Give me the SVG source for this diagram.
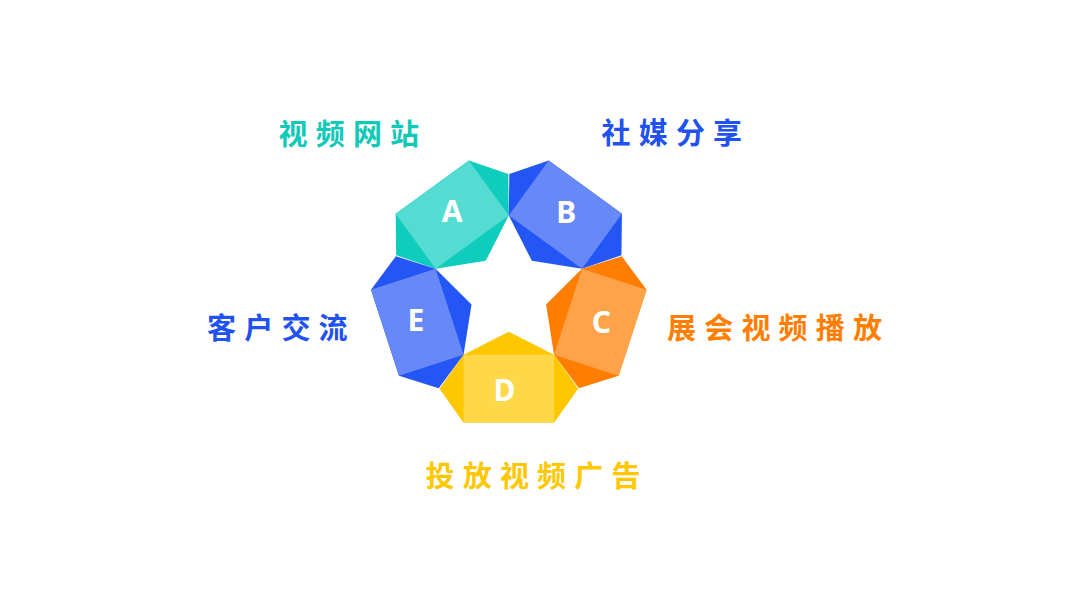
<svg xmlns="http://www.w3.org/2000/svg" width="1080" height="608" viewBox="0 0 1080 608">
<style>
.lbl{font-family:"Noto Sans CJK SC","Noto Sans",sans-serif;font-weight:700;font-size:29px;letter-spacing:8.2px}
.let{font-family:"Noto Sans","Open Sans",sans-serif;font-weight:700;font-size:30px;fill:#ffffff;text-anchor:middle}
.teal{fill:#0FCCBD;color:#55DCD2}
.blue{fill:#2356F5;color:#6689F7}
.orng{fill:#FF7D00;color:#FFA34B}
.yell{fill:#FFC700;color:#FFD84A}
</style>
<defs>
<g id="piece">
<polygon points="0,39.2 45.25,62.3 69.3,96.25 45.25,130.2 -45.25,130.2 -69.3,96.25 -45.25,62.3"/>
<rect fill="currentColor" x="-45.25" y="62.3" width="90.5" height="67.9"/>
</g>
</defs>
<rect width="1080" height="608" fill="#ffffff"/>
<g id="nodeA">
<use href="#piece" class="teal" transform="translate(508.8 292.5) rotate(144)"/>
<text class="let" x="452.2" y="221.7">A</text>
</g>
<g id="nodeB">
<use href="#piece" class="blue" transform="translate(508.8 292.5) rotate(-144)"/>
<text class="let" x="566.3" y="222.5">B</text>
</g>
<g id="nodeC">
<use href="#piece" class="orng" transform="translate(508.8 292.5) rotate(-72)"/>
<text class="let" x="601.5" y="333">C</text>
</g>
<g id="nodeD">
<use href="#piece" class="yell" transform="translate(508.8 292.5)"/>
<text class="let" x="504.5" y="400.7">D</text>
</g>
<g id="nodeE">
<use href="#piece" class="blue" transform="translate(508.8 292.5) rotate(72)"/>
<text class="let" x="415.8" y="331">E</text>
</g>
<g id="labels">
<text class="lbl" x="278.5" y="145" fill="#10C9B9">视频网站</text>
<text class="lbl" x="601.5" y="144" fill="#2152F0">社媒分享</text>
<text class="lbl" x="207" y="339" fill="#2152F0">客户交流</text>
<text class="lbl" x="667" y="339" fill="#FF7E00">展会视频播放</text>
<text class="lbl" x="425.5" y="486.5" fill="#FFC700">投放视频广告</text>
</g>
<g id="connectors"/>
</svg>
